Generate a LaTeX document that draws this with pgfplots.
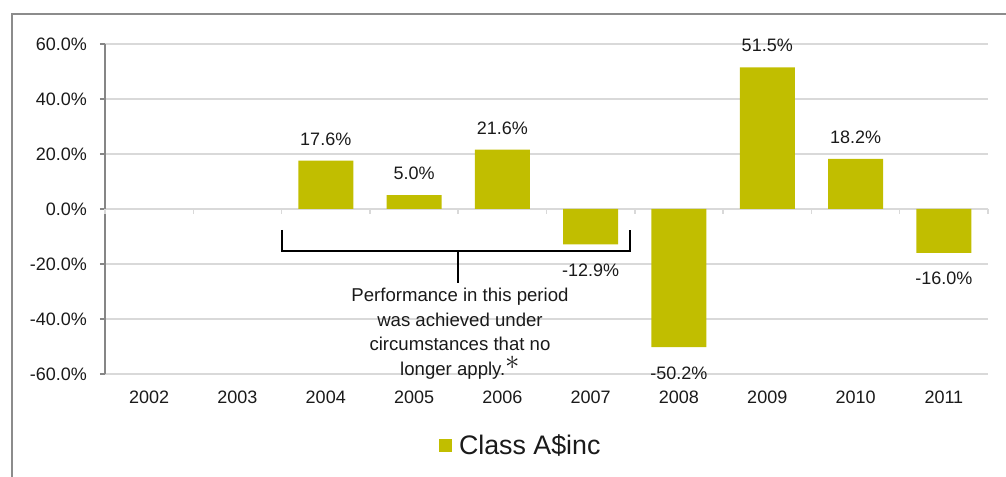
\documentclass[border=0pt]{standalone}
\usepackage{pgfplots}
\pgfplotsset{compat=1.18}
\usepackage{fontspec}
\setmainfont{Liberation Sans}
\definecolor{barcol}{RGB}{193,190,0}
\definecolor{gridcol}{RGB}{217,217,217}
\definecolor{axcol}{RGB}{134,134,134}
\definecolor{framecol}{RGB}{140,140,140}
\definecolor{txt}{RGB}{26,26,26}
\begin{document}
\begin{tikzpicture}
\useasboundingbox (0,0) rectangle (503bp,238.5bp);
\draw[framecol, line width=1.1bp] (6bp,-2bp) -- (6bp,231.5bp) -- (505bp,231.5bp);
\begin{axis}[
  at={(52.5bp,51.5bp)}, anchor=south west,
  scale only axis, width=441.5bp, height=165bp,
  xmin=-0.5, xmax=9.5, ymin=-60, ymax=60,
  axis y line*=left, axis x line*=bottom,
  x axis line style={draw=none},
  y axis line style={draw=axcol, line width=0.75bp},
  xtick={0,...,9},
  xticklabels={2002,2003,2004,2005,2006,2007,2008,2009,2010,2011},
  x tick style={draw=none},
  ytick={-60,-40,-20,0,20,40,60},
  yticklabels={-60.0\%,-40.0\%,-20.0\%,0.0\%,20.0\%,40.0\%,60.0\%},
  y tick style={draw=axcol, line width=0.75bp},
  tick align=outside, major tick length=2.5bp,
  ymajorgrids, grid style={draw=gridcol, line width=0.75bp},
  tick label style={font=\fontsize{9bp}{10bp}\selectfont, text=txt},
  xticklabel style={yshift=-2.5bp},
  yticklabel style={xshift=-3bp},
  clip=false,
  ybar, bar width=27.5bp, bar shift=0pt,
  point meta=explicit symbolic,
  nodes near coords={\pgfplotspointmeta\%},
  every node near coord/.append style={font=\fontsize{9bp}{10bp}\selectfont, text=txt},
  legend style={draw=none, fill=none, at={(axis description cs:0.472,-0.218)}, anchor=center,
    font=\fontsize{13.4bp}{15bp}\selectfont, text=txt,
    /tikz/every odd column/.append style={column sep=1.5bp}},
  legend image code/.code={\fill[barcol] (0bp,-3.25bp) rectangle (6.5bp,3.25bp);},
]
\addplot[fill=barcol, draw=none,
  every node near coord/.append style={anchor=south, inner sep=7.5bp}] coordinates {
  (2,17.6) [17.6]
  (3,5.0) [5.0]
  (4,21.6) [21.6]
  (7,51.5) [51.5]
  (8,18.2) [18.2]
};
\addlegendentry{Class A\$inc}
\addplot[fill=barcol, draw=none, forget plot,
  every node near coord/.append style={anchor=north, inner sep=9.5bp}] coordinates {
  (5,-12.9) [-12.9]
  (6,-50.2) [-50.2]
  (9,-16.0) [-16.0]
};
\pgfplotsinvokeforeach{0,...,10}{
  \draw[gridcol, line width=0.75bp] (axis cs:#1-0.5,0) -- ([yshift=-2.5bp]axis cs:#1-0.5,0);
}
\draw[black, line width=1bp] (axis cs:1.5,-7.6) -- (axis cs:1.5,-15.3) -- (axis cs:5.45,-15.3) -- (axis cs:5.45,-7.6);
\draw[black, line width=1bp] (axis cs:3.5,-15.3) -- (axis cs:3.5,-26.9);
\node[anchor=north, align=center, inner sep=0pt, text=txt, font=\fontsize{9.3bp}{12.25bp}\selectfont]
  at (axis cs:3.52,-28.7) {Performance in this period\\was achieved under\\circumstances that no\\longer apply.\smash{\raisebox{3bp}{\fontsize{15bp}{15bp}\selectfont$\ast$}}};
\end{axis}
\end{tikzpicture}
\end{document}
